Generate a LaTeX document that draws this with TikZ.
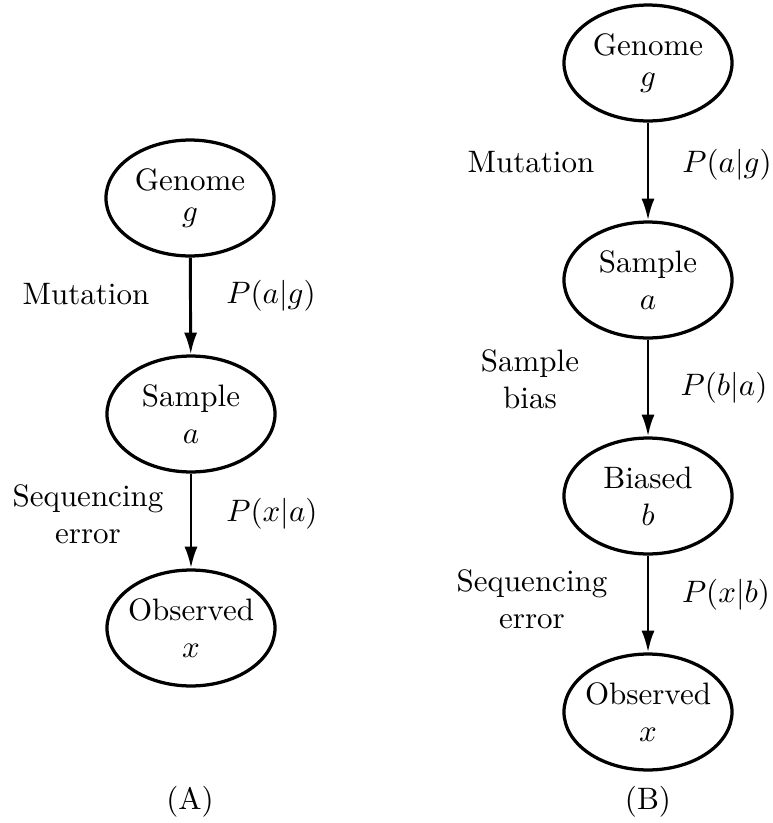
\documentclass[tikz,border=0pt]{standalone}
\usetikzlibrary{shapes.geometric,arrows.meta}
\begin{document}
\begin{tikzpicture}[x=0.3226pt,y=-0.3226pt,
  state/.style={ellipse,draw,line width=1.05pt,minimum width=54.2pt,minimum height=37.4pt,inner sep=0pt},
  stxt/.style={inner sep=0pt,align=center},
  arr/.style={line width=0.95pt,-{Latex[length=7pt,width=4.2pt]}},
  lbl/.style={inner sep=0pt,align=center},
  blbl/.style={inner sep=0pt,anchor=base}]
\useasboundingbox (0,0) rectangle (772,823);
% ---------- (A) ----------
\node[state] (gA) at (190,198) {};
\node[stxt] (gAt) at (gA) {Genome\\[-2pt]$g$};
\node[state] (sA) at (191,414) {};
\node[stxt] (sAt) at (sA) {Sample\\$a$};
\node[state] (oA) at (191,628) {};
\node[stxt] (oAt) at (oA) {Observed\\$x$};
\draw[arr] (gA) -- (sA);
\draw[arr] (sA) -- (oA);
\node[blbl] (mA) at (86,304) {Mutation};
\node[blbl] (pagA) at (271,303) {$P(a|g)$};
\node[lbl] (seA) at (88,514.5) {Sequencing\\error};
\node[blbl] (pxaA) at (272,521) {$P(x|a)$};
\node[blbl] (capA) at (190,809) {(A)};
% ---------- (B) ----------
\node[state] (gB) at (648,63) {};
\node[stxt] (gBt) at (gB) {Genome\\[-2pt]$g$};
\node[state] (sB) at (648,280) {};
\node[stxt] (sBt) at (sB) {Sample\\$a$};
\node[state] (bB) at (648,496) {};
\node[stxt] (bBt) at (bB) {Biased\\$b$};
\node[state] (oB) at (648,712) {};
\node[stxt] (oBt) at (oB) {Observed\\$x$};
\draw[arr] (gB) -- (sB);
\draw[arr] (sB) -- (bB);
\draw[arr] (bB) -- (oB);
\node[blbl] (mB) at (531,172) {Mutation};
\node[blbl] (pagB) at (727,172) {$P(a|g)$};
\node[lbl] (sbB) at (530,379) {Sample\\bias};
\node[blbl] (pbaB) at (724,395) {$P(b|a)$};
\node[lbl] (seB) at (532,599) {Sequencing\\error};
\node[blbl] (pxbB) at (726,602) {$P(x|b)$};
\node[blbl] (capB) at (648,809) {(B)};
\end{tikzpicture}
\end{document}
